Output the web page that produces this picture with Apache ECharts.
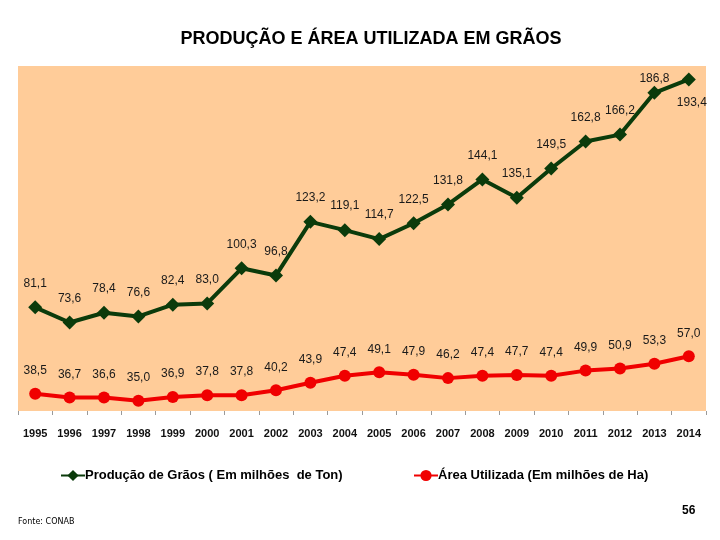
<!DOCTYPE html>
<html>
<head>
<meta charset="utf-8">
<script src="https://cdn.jsdelivr.net/npm/echarts@6/dist/echarts.min.js"></script>
<style>html,body{margin:0;padding:0;background:#fff}#c{width:720px;height:540px}</style>
</head>
<body>
<div id="c"></div>
<script>
var years = ['1995','1996','1997','1998','1999','2000','2001','2002','2003','2004','2005','2006','2007','2008','2009','2010','2011','2012','2013','2014'];
var producao = [81.1,73.6,78.4,76.6,82.4,83.0,100.3,96.8,123.2,119.1,114.7,122.5,131.8,144.1,135.1,149.5,162.8,166.2,186.8,193.4];
var area = [38.5,36.7,36.6,35.0,36.9,37.8,37.8,40.2,43.9,47.4,49.1,47.9,46.2,47.4,47.7,47.4,49.9,50.9,53.3,57.0];
var nameProd = 'Produção de Grãos ( Em milhões  de Ton)';
var nameArea = 'Área Utilizada (Em milhões de Ha)';

var FONT = '"Liberation Sans", Arial, sans-serif';
function fmt(p){ return p.value.toFixed(1).replace('.', ','); }

var prodData = producao.map(function(v, i){
  var d = {value: v};
  if (i === 18) d.label = {position: 'top', distance: 1, offset: [0, 0]};
  if (i === 19) d.label = {position: 'bottom', distance: 10, offset: [3, 0]};
  return d;
});

var chart = echarts.init(document.getElementById('c'));
chart.setOption({
  animation: false,
  backgroundColor: '#ffffff',
  title: {
    text: 'PRODUÇÃO E ÁREA UTILIZADA EM GRÃOS',
    left: 366, top: 25, textAlign: 'center',
    textStyle: {fontFamily: FONT, fontWeight: 'bold', fontSize: 18, color: '#000'}
  },
  legend: [
    {data: [nameProd], left: 55, top: 464, itemWidth: 24, itemHeight: 14, itemGap: 2,
     textStyle: {fontFamily: FONT, fontWeight: 'bold', fontSize: 13, color: '#000', padding: [0,0,0,-5]}},
    {data: [nameArea], left: 408, top: 464, itemWidth: 24, itemHeight: 14, itemGap: 2,
     textStyle: {fontFamily: FONT, fontWeight: 'bold', fontSize: 13, color: '#000', padding: [0,0,0,-5]}}
  ],
  graphic: [
    {type: 'text', left: 18, top: 518, style: {text: 'Fonte: CONAB', font: '8px "DejaVu Sans", sans-serif', fill: '#000'}},
    {type: 'text', left: 682, top: 505, style: {text: '56', font: 'bold 12px "Liberation Sans", Arial, sans-serif', fill: '#000'}}
  ],
  grid: {left: 18, right: 14, top: 66, bottom: 129, show: true, backgroundColor: '#FFCC99', borderWidth: 0},
  xAxis: {
    type: 'category', data: years, boundaryGap: true,
    axisLine: {show: false},
    axisTick: {show: true, length: 4, lineStyle: {color: '#9a9a9a'}},
    axisLabel: {interval: 0, margin: 17, fontFamily: FONT, fontWeight: 'bold', fontSize: 11, color: '#111'}
  },
  yAxis: {type: 'value', min: 30, max: 200, show: false, splitLine: {show: false}},
  series: [
    {
      name: nameProd, type: 'line', data: prodData,
      symbol: 'diamond', symbolSize: 14,
      lineStyle: {color: '#0B3B0B', width: 4},
      itemStyle: {color: '#0B3B0B'},
      label: {show: true, position: 'top', distance: 11, formatter: fmt,
              fontFamily: FONT, fontSize: 12, color: '#1a1a1a'}
    },
    {
      name: nameArea, type: 'line', data: area,
      symbol: 'circle', symbolSize: 12,
      lineStyle: {color: '#F00000', width: 4},
      itemStyle: {color: '#F00000'},
      label: {show: true, position: 'top', distance: 11, formatter: fmt,
              fontFamily: FONT, fontSize: 12, color: '#1a1a1a'}
    }
  ]
});
</script>
</body>
</html>
